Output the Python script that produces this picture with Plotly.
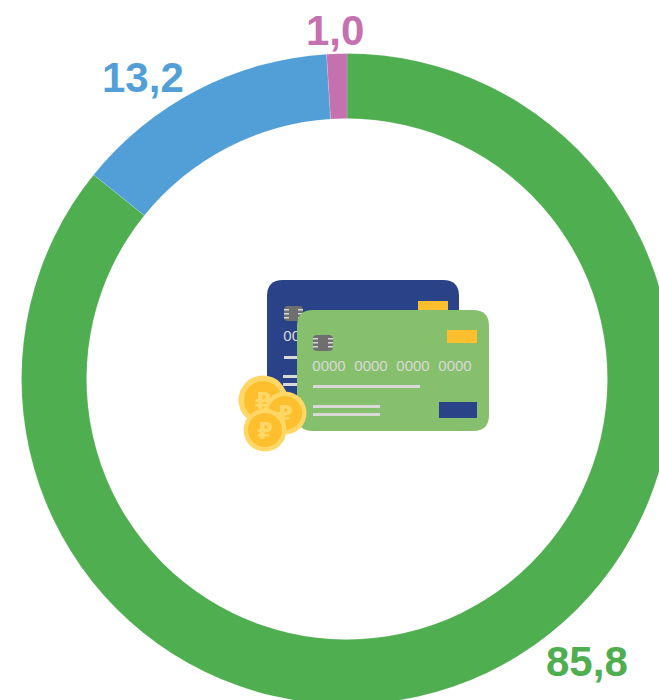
import plotly.graph_objects as go

categories = ["Зелёный", "Синий", "Розовый"]
values = [85.8, 13.2, 1.0]
value_labels = ["85,8", "13,2", "1,0"]
colors = ["#4FAE50", "#529FD7", "#C571B0"]

W, H = 680, 712
CX, CY, R = 347, 379, 325.5
FONT = "Liberation Sans, Arial, sans-serif"
NAVY, GREEN, YEL, LIGHT, CHIP = "#2A4288", "#87C06C", "#FDBF2D", "#D9D9D9", "#6F6F6F"
COIN_RIM, COIN = "#FFD766", "#FDBF2D"

fig = go.Figure(go.Pie(
    labels=categories, values=values, hole=0.8, sort=False, direction="clockwise", rotation=0,
    marker=dict(colors=colors, line=dict(color="rgba(255,255,255,0.3)", width=0.5)),
    textinfo="none", hoverinfo="skip", showlegend=False,
    domain=dict(x=[(CX - R) / W, (CX + R) / W], y=[1 - (CY + R) / H, 1 - (CY - R) / H]),
))


def rrect(x0, y0, x1, y1, r):
    return (f"M{x0+r},{y0} L{x1-r},{y0} Q{x1},{y0} {x1},{y0+r} L{x1},{y1-r} Q{x1},{y1} {x1-r},{y1} "
            f"L{x0+r},{y1} Q{x0},{y1} {x0},{y1-r} L{x0},{y0+r} Q{x0},{y0} {x0+r},{y0} Z")


shapes = []


def base(**k):
    k.setdefault("line", dict(width=0))
    k.update(xref="x", yref="y", layer="above")
    shapes.append(k)


def rect(x0, y0, x1, y1, color):
    base(type="rect", x0=x0, y0=y0, x1=x1, y1=y1, fillcolor=color)


def label(cx, cy, text, size, color, family=FONT):
    base(type="rect", x0=cx - 20, y0=cy - 10, x1=cx + 20, y1=cy + 10, fillcolor="rgba(0,0,0,0)",
         label=dict(text=text, textposition="middle center", font=dict(size=size, color=color, family=family)))


def chip(x0, y0, x1, y1):
    base(type="path", path=rrect(x0, y0, x1, y1, 4), fillcolor=CHIP)
    for y in (y0 + 3, y0 + 7, y0 + 11):
        rect(x0, y, x0 + 5, y + 1.5, LIGHT)
        rect(x1 - 5, y, x1, y + 1.5, LIGHT)


def coin(cx, cy, r, inner):
    base(type="circle", x0=cx - r, y0=cy - r, x1=cx + r, y1=cy + r, fillcolor=COIN_RIM)
    base(type="circle", x0=cx - inner, y0=cy - inner, x1=cx + inner, y1=cy + inner, fillcolor=COIN)
    label(cx, cy - 1, "<b>₽</b>", 23, COIN_RIM, "DejaVu Sans, sans-serif")


# back card
base(type="path", path=rrect(267, 280, 459, 402, 16), fillcolor=NAVY)
rect(418, 301, 448, 312, YEL)
chip(284, 306, 303, 321)
label(300, 334.5, "0000", 15, LIGHT)
rect(284, 356, 298, 359, LIGHT)
rect(283, 375, 298, 378, LIGHT)
rect(283, 383, 298, 386, LIGHT)

# coins behind front card
coin(263, 400, 24.5, 19)

# front card
base(type="path", path=rrect(297, 310, 489, 431, 16), fillcolor=GREEN)
rect(447, 330, 477, 343, YEL)
chip(313, 335, 333, 351)
for x in (329, 371, 413, 455):
    label(x, 364, "0000", 15, LIGHT)
rect(313, 385, 420, 388, LIGHT)
rect(313, 405, 380, 408, LIGHT)
rect(313, 413, 380, 416, LIGHT)
rect(439, 402, 477, 418, NAVY)

coin(285, 413, 21.5, 17)
coin(265, 430, 21.5, 17)

annotations = [
    dict(x=x, y=y, text=f"<b>{t}</b>", xref="x", yref="y", showarrow=False,
         font=dict(size=42, color=c, family=FONT), xanchor="center", yanchor="middle")
    for t, c, x, y in zip(value_labels, colors, (587, 143, 335), (661, 77, 30))
]

fig.update_layout(
    width=W, height=H, margin=dict(l=0, r=0, t=0, b=0, pad=0), autosize=False,
    paper_bgcolor="white", plot_bgcolor="rgba(0,0,0,0)",
    xaxis=dict(range=[0, W], visible=False, domain=[0, 1], fixedrange=True),
    yaxis=dict(range=[H, 0], visible=False, domain=[0, 1], fixedrange=True),
    shapes=shapes, annotations=annotations,
)
fig.add_trace(go.Scatter(x=[0, W], y=[0, H], mode="none", hoverinfo="skip", showlegend=False))

fig.write_html("out.html", config=dict(displayModeBar=False),
               post_script="document.documentElement.style.overflow='hidden';document.body.style.margin='0';document.body.style.overflow='hidden';")
